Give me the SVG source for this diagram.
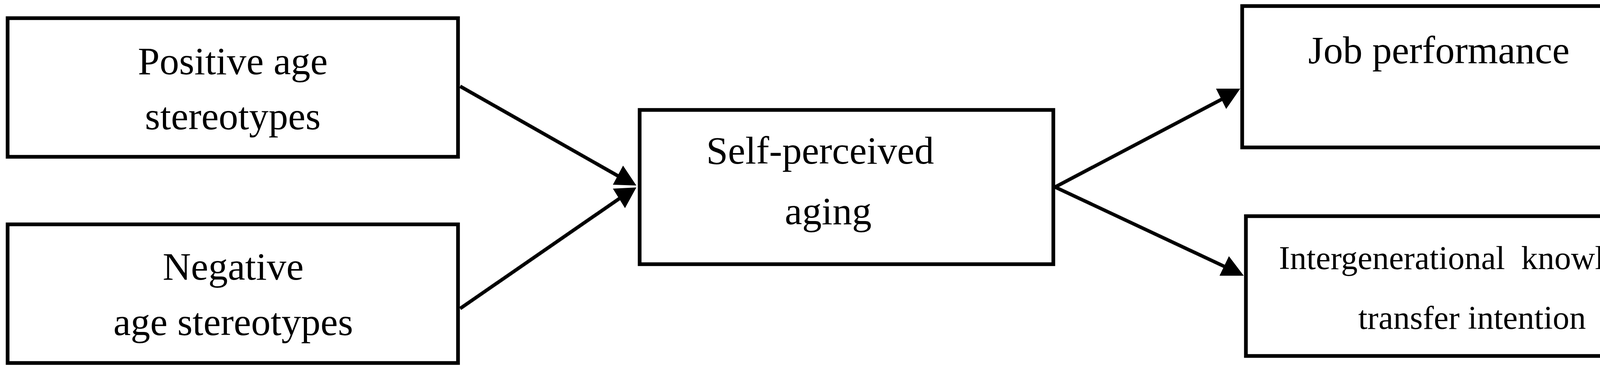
<svg xmlns="http://www.w3.org/2000/svg" width="4358" height="950" viewBox="0 0 4358 950">
<style>
.box{fill:#fff;stroke:#000;stroke-width:9.5}
.t{font-family:"Liberation Serif","Times New Roman",serif;font-size:100px;fill:#000}
.s{font-size:85px}
.c{stroke:#000;stroke-width:9;fill:none}
.h{fill:#000;stroke:none}
</style>
<rect width="4358" height="950" fill="#fff"/>
<g id="connectors">
<line class="c" x1="1178" y1="221" x2="1590" y2="455"/>
<polygon class="h" points="1629,475 1595,424 1569,473"/>
<line class="c" x1="1178" y1="790" x2="1592" y2="504"/>
<polygon class="h" points="1629,480 1569,483 1600,533"/>
<line class="c" x1="2701" y1="479" x2="3128" y2="254"/>
<polygon class="h" points="3113,227 3175,227 3139,279"/>
<line class="c" x1="2701" y1="479" x2="3138" y2="684"/>
<polygon class="h" points="3122,706 3184,706 3146,656"/>
</g>
<g id="positive">
<rect class="box" x="19.5" y="46.5" width="1153" height="355"/>
<text class="t" x="596" y="190" text-anchor="middle">Positive age</text>
<text class="t" x="596" y="331" text-anchor="middle">stereotypes</text>
</g>
<g id="negative">
<rect class="box" x="19.5" y="574.5" width="1153" height="355"/>
<text class="t" x="597" y="716" text-anchor="middle">Negative</text>
<text class="t" x="597" y="858" text-anchor="middle">age stereotypes</text>
</g>
<g id="self">
<rect class="box" x="1637.5" y="281.5" width="1059" height="395"/>
<text class="t" x="1808" y="419">Self-perceived</text>
<text class="t" x="2009" y="574">aging</text>
</g>
<g id="job">
<rect class="box" x="3180" y="15.5" width="1157" height="362"/>
<text class="t" x="3349" y="162">Job performance</text>
</g>
<g id="ikt">
<rect class="box" x="3189.5" y="553.5" width="1155" height="358"/>
<text class="t s" x="3274" y="689" word-spacing="20">Intergenerational knowledge</text>
<text class="t s" x="3477" y="842">transfer intention</text>
</g>
</svg>
